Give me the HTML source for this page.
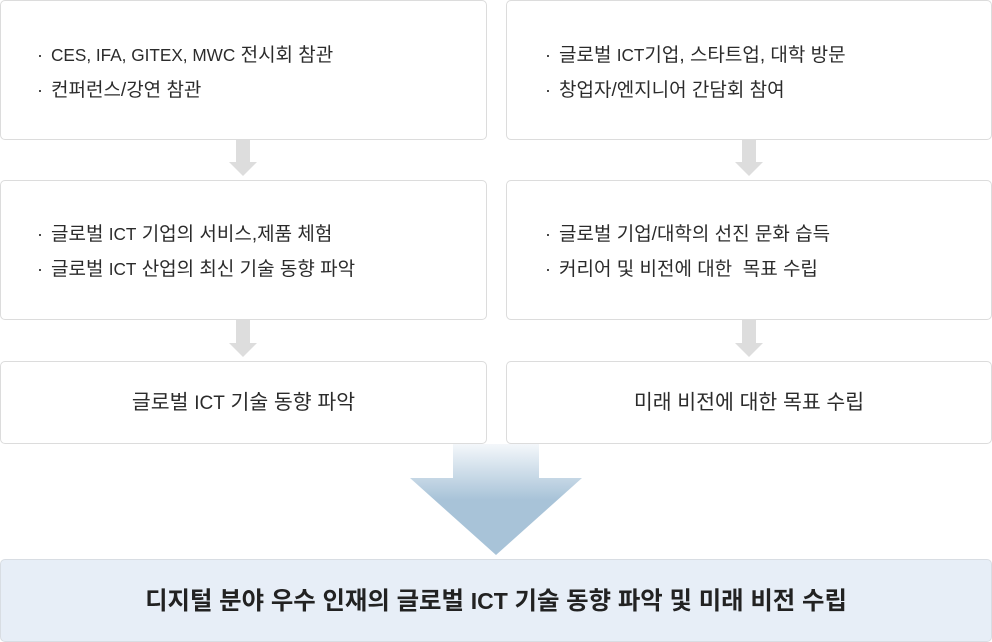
<!DOCTYPE html>
<html><head><meta charset="utf-8"><style>
html,body{margin:0;padding:0;background:#fff;}
body{width:992px;height:642px;position:relative;overflow:hidden;font-family:"Liberation Sans","Noto Sans CJK KR",sans-serif;color:#2b2b2b;}
.box{position:absolute;box-sizing:border-box;border:1px solid #dcdcdc;border-radius:5px;background:#fff;}
.list{position:absolute;left:36px;margin:0;padding:0;list-style:none;font-size:19px;line-height:35px;white-space:nowrap;letter-spacing:0;}
.list li::before{content:"·";display:inline-block;width:14px;font-size:18px;}
.l{font-size:17.2px;}
.c{position:absolute;left:0;right:0;text-align:center;font-size:20.5px;white-space:nowrap;}
.c .l{font-size:19px;}
.bottom{position:absolute;left:0;top:559px;width:992px;height:83px;box-sizing:border-box;border:1px solid #d8dde3;border-radius:5px;background:#e7eef7;}
.bt{position:absolute;left:0;right:0;top:1px;line-height:81px;text-align:center;font-size:24.4px;font-weight:bold;color:#222;white-space:nowrap;}
.bt .l{font-size:23px;}
svg{position:absolute;left:0;top:0;}
</style></head><body>

<div class="box" style="left:0;top:0;width:487px;height:140px;">
<ul class="list" style="top:37px;"><li><span class="l">CES, IFA, GITEX, MWC</span> 전시회 참관</li><li>컨퍼런스/강연 참관</li></ul>
</div>
<div class="box" style="left:506px;top:0;width:486px;height:140px;">
<ul class="list" style="top:37px;left:38px;"><li>글로벌 <span class="l">ICT</span>기업, 스타트업, 대학 방문</li><li>창업자/엔지니어 간담회 참여</li></ul>
</div>

<div class="box" style="left:0;top:180px;width:487px;height:140px;">
<ul class="list" style="top:36px;"><li>글로벌 <span class="l">ICT</span> 기업의 서비스,제품 체험</li><li>글로벌 <span class="l">ICT</span> 산업의 최신 기술 동향 파악</li></ul>
</div>
<div class="box" style="left:506px;top:180px;width:486px;height:140px;">
<ul class="list" style="top:36px;left:38px;"><li>글로벌 기업/대학의 선진 문화 습득</li><li>커리어 및 비전에 대한&nbsp; 목표 수립</li></ul>
</div>

<div class="box" style="left:0;top:361px;width:487px;height:83px;">
<div class="c" style="top:0;line-height:81px;">글로벌 <span class="l">ICT</span> 기술 동향 파악</div>
</div>
<div class="box" style="left:506px;top:361px;width:486px;height:83px;">
<div class="c" style="top:0;line-height:81px;">미래 비전에 대한 목표 수립</div>
</div>

<svg width="992" height="642" viewBox="0 0 992 642">
<defs>
<linearGradient id="g" x1="0" y1="443" x2="0" y2="500" gradientUnits="userSpaceOnUse">
<stop offset="0" stop-color="#f5f8fb"/>
<stop offset="1" stop-color="#a8c3d8"/>
</linearGradient>
</defs>
<polygon points="236,140 250,140 250,162 257,162 243,176 229,162 236,162" fill="#dddddd"/>
<polygon points="742,140 756,140 756,162 763,162 749,176 735,162 742,162" fill="#dddddd"/>
<polygon points="236,320 250,320 250,343 257,343 243,357 229,343 236,343" fill="#dddddd"/>
<polygon points="742,320 756,320 756,343 763,343 749,357 735,343 742,343" fill="#dddddd"/>
<polygon points="453,444 539,444 539,478 582,478 496,555 410,478 453,478" fill="url(#g)"/>
</svg>

<div class="bottom"><div class="bt">디지털 분야 우수 인재의 글로벌 <span class="l">ICT</span> 기술 동향 파악 및 미래 비전 수립</div></div>
</body></html>
